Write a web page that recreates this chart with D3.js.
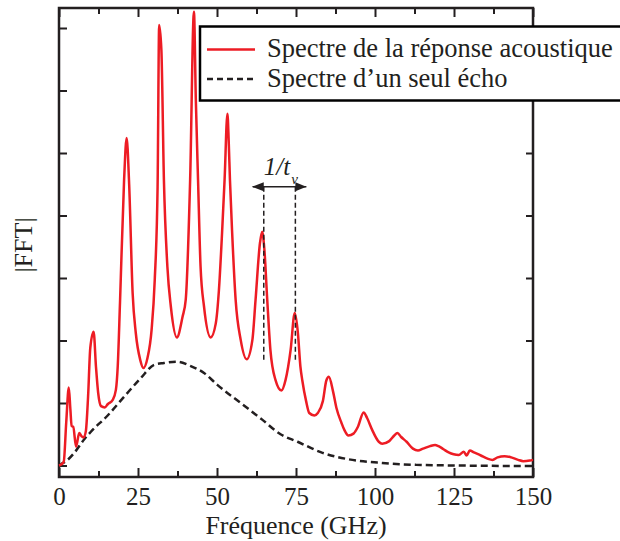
<!DOCTYPE html>
<html><head><meta charset="utf-8">
<script src="https://cdn.jsdelivr.net/npm/d3@7"></script>
<style>body{margin:0;background:#fff} svg{display:block}</style>
</head><body>
<svg id="c" width="620" height="541"></svg>
<script>
// ---- data ----
const redFreq = [0,0.8,1.5,2.3,3.1,3.6,4.0,4.5,5.4,6.4,7.1,7.8,8.5,9.2,9.9,10.95,11.7,12.4,13.3,14.5,15.4,17.0,18.0,18.6,19.3,20.6,21.4,22.2,23.3,24.3,25.7,26.7,28.0,29.3,30.3,31.2,31.7,32.4,33.2,34.3,35.4,37.3,39.1,40.1,41.5,42.7,43.3,44.0,44.8,45.9,48.0,49.6,50.6,51.6,52.4,53.3,53.7,54.1,54.8,55.9,57.5,59.4,61.2,62.2,63.6,64.3,65.0,65.9,66.9,68.5,70.4,71.7,73.3,74.6,75.6,76.4,77.0,78.2,79.2,80.8,81.9,83.5,84.6,85.4,86.7,87.8,89.4,90.3,91.6,93.2,94.6,96.4,97.5,99.1,101.2,102.3,104.5,106.1,107.1,108.2,110.0,112.0,113.6,115.2,117.4,119.0,120.1,121.7,123.3,124.9,126.5,128.1,129.0,130.0,131.3,133.5,135.6,137.2,138.8,141.0,143.1,145.3,146.9,149.0,150.0];
const redAmp  = [0.00,0.02,0.06,0.70,1.25,0.90,0.63,0.62,0.30,0.52,0.47,0.45,0.55,1.10,1.88,2.14,1.58,1.16,0.95,0.93,0.98,1.05,1.21,1.60,2.60,4.57,5.24,4.50,2.76,2.12,1.69,1.56,1.72,2.17,2.97,4.46,7.05,6.65,4.57,3.18,2.54,2.05,2.38,2.65,4.57,7.26,5.85,4.57,3.18,2.54,2.05,2.27,2.80,3.72,4.57,5.63,5.20,4.57,3.72,2.65,2.01,1.70,2.01,2.65,3.56,3.74,3.45,2.65,1.85,1.37,1.20,1.37,1.85,2.44,2.12,1.58,1.36,1.03,0.84,0.80,0.84,1.03,1.36,1.42,1.19,0.92,0.68,0.57,0.48,0.51,0.62,0.85,0.76,0.57,0.38,0.35,0.39,0.48,0.52,0.46,0.38,0.27,0.24,0.27,0.31,0.33,0.31,0.26,0.21,0.18,0.17,0.22,0.16,0.24,0.21,0.16,0.11,0.09,0.13,0.15,0.13,0.09,0.07,0.08,0.09];
const echoFreq = [0,0.6,2.5,4.8,8.0,10.1,15.4,20.6,25.9,30.1,33.2,37.5,41.7,45.9,50.1,57.5,64.4,70.1,75.5,83.0,91.6,102.3,113,126,150];
const echoAmp  = [0,0.02,0.08,0.20,0.42,0.54,0.80,1.10,1.40,1.61,1.64,1.66,1.59,1.48,1.29,1.00,0.73,0.50,0.38,0.21,0.10,0.04,0.01,0.0,-0.01];
const xTickValues = [0,25,50,75,100,125,150];
const xMinorTickValues = [12.5,37.5,62.5,87.5,112.5,137.5];
const yTickValues = [0,1,2,3,4,5,6,7];
const legendLabels = ["Spectre de la réponse acoustique","Spectre d\u2019un seul écho"];
const xLabel = "Fréquence (GHz)";
const yLabel = "|FFT|";
const markerFreqs = [64.8, 74.8];
const markerTop = 4.46, markerBottom = 1.66;

// ---- layout ----
const L=59, R=533, T=8, B=477;
const INK = "#231f20", RED = "#ed1c24";
const FONT = "'Liberation Serif','Times New Roman',serif";
const svg = d3.select("#c");
const x = d3.scaleLinear().domain([0,150]).range([L,R]);
const y = d3.scaleLinear().domain([0,7]).range([465.5,28]);

function styleAxis(g){
  g.select(".domain").remove();
  g.selectAll(".tick line").attr("stroke",INK).attr("stroke-width",2);
  g.selectAll(".tick text").attr("fill",INK).style("font-family",FONT).style("font-size","25px");
}
svg.append("g").attr("transform",`translate(0,${B})`)
  .call(d3.axisBottom(x).tickValues(xTickValues).tickSize(-9).tickPadding(9.75).tickFormat(d3.format("d"))).call(styleAxis);
svg.append("g").attr("transform",`translate(0,${B})`)
  .call(d3.axisBottom(x).tickValues(xMinorTickValues).tickSize(-6).tickFormat("")).call(styleAxis);
svg.append("g").attr("transform",`translate(0,${T})`)
  .call(d3.axisTop(x).tickValues(xTickValues).tickSize(-9).tickFormat("")).call(styleAxis);
svg.append("g").attr("transform",`translate(0,${T})`)
  .call(d3.axisTop(x).tickValues(xMinorTickValues).tickSize(-6).tickFormat("")).call(styleAxis);
svg.append("g").attr("transform",`translate(${L},0)`)
  .call(d3.axisLeft(y).tickValues(yTickValues).tickSize(-8).tickFormat("")).call(styleAxis);
svg.append("g").attr("transform",`translate(${R},0)`)
  .call(d3.axisRight(y).tickValues(yTickValues).tickSize(-7).tickFormat("")).call(styleAxis);

svg.append("rect").attr("x",L).attr("y",T).attr("width",R-L).attr("height",B-T)
  .attr("fill","none").attr("stroke",INK).attr("stroke-width",2.5);

// ---- series ----
const line = d3.line().x(d=>x(d[0])).y(d=>y(d[1])).curve(d3.curveMonotoneX);
const echoData = echoFreq.map((f,i)=>[f,echoAmp[i]]);
const redData = redFreq.map((f,i)=>[f,redAmp[i]]);
svg.append("path").attr("d",line(echoData)).attr("fill","none")
  .attr("stroke",INK).attr("stroke-width",2.5).attr("stroke-dasharray","7,4");
svg.append("path").attr("d",line(redData)).attr("fill","none")
  .attr("stroke",RED).attr("stroke-width",2.5).attr("stroke-linejoin","round");

// ---- annotation 1/t_v ----
const ax0 = x(markerFreqs[0]), ax1 = x(markerFreqs[1]), ay = y(markerTop);
svg.selectAll("line.mk").data(markerFreqs).enter().append("line").attr("class","mk")
  .attr("x1",d=>x(d)).attr("x2",d=>x(d)).attr("y1",y(markerTop)).attr("y2",y(markerBottom))
  .attr("stroke",INK).attr("stroke-width",1.5).attr("stroke-dasharray","5,3");
svg.append("line").attr("x1",ax0-11).attr("x2",ax1+11).attr("y1",ay).attr("y2",ay)
  .attr("stroke",INK).attr("stroke-width",1.5);
svg.append("path").attr("d",`M${ax0-12},${ay}L${ax0},${ay-4.5}L${ax0},${ay+4.5}Z`).attr("fill",INK);
svg.append("path").attr("d",`M${ax1+11},${ay}L${ax1},${ay-4.5}L${ax1},${ay+4.5}Z`).attr("fill",INK);
const at = svg.append("text").attr("x",ax0).attr("y",ay-12)
  .style("font-family",FONT).style("font-size","25px").style("font-style","italic").attr("fill",INK);
at.append("tspan").text("1/t");
at.append("tspan").attr("dy",9).attr("dx",1).style("font-size","15px").text("v");

// ---- legend ----
const lg = svg.append("g");
lg.append("rect").attr("x",200).attr("y",26.5).attr("width",440).attr("height",74)
  .attr("fill","#fff").attr("stroke","#000").attr("stroke-width",2.5);
lg.append("line").attr("x1",207).attr("x2",255).attr("y1",49.5).attr("y2",49.5)
  .attr("stroke",RED).attr("stroke-width",2.5);
lg.append("line").attr("x1",207).attr("x2",255).attr("y1",79).attr("y2",79)
  .attr("stroke",INK).attr("stroke-width",2.5).attr("stroke-dasharray","6,4");
lg.selectAll("text").data(legendLabels).enter().append("text")
  .attr("x",267).attr("y",(d,i)=>57+i*29.5).text(d=>d)
  .style("font-family",FONT).style("font-size","26.5px").attr("fill",INK);

// ---- axis titles ----
svg.append("text").attr("x",(L+R)/2).attr("y",534).attr("text-anchor","middle").text(xLabel)
  .style("font-family",FONT).style("font-size","26px").attr("fill",INK);
svg.append("text").attr("transform","translate(32,245) rotate(-90)").attr("text-anchor","middle").text(yLabel)
  .style("font-family",FONT).style("font-size","26px").attr("fill",INK);
</script>
</body></html>
